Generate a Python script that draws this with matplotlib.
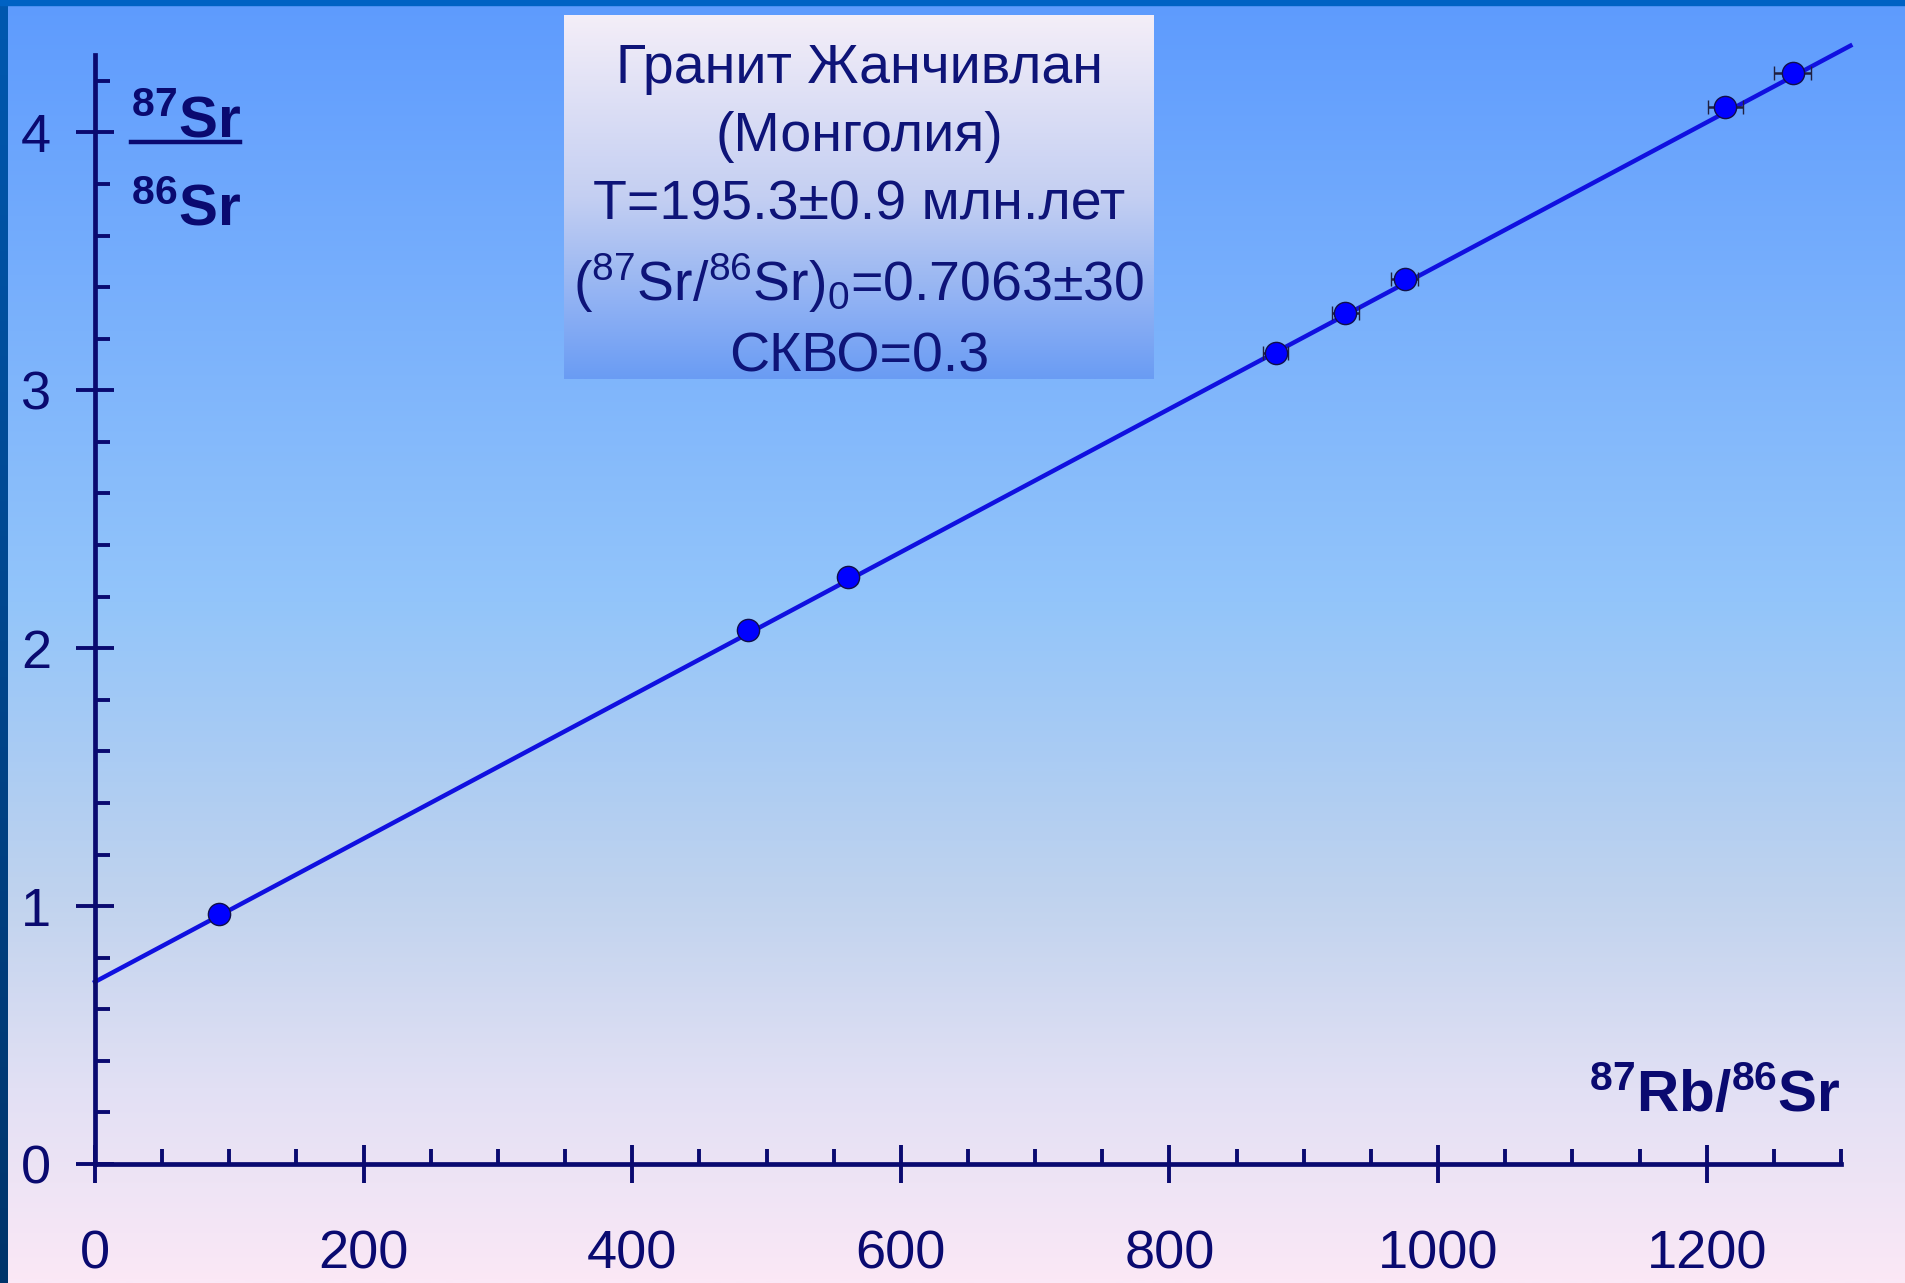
import numpy as np
import matplotlib.pyplot as plt
from matplotlib.colors import LinearSegmentedColormap
from matplotlib.ticker import MultipleLocator, FormatStrFormatter
from matplotlib.lines import Line2D
from matplotlib.patches import Rectangle

# Fonts: Arial-like face, mathtext in the same family for the isotope superscripts
plt.rcParams['font.family'] = ['Liberation Sans', 'DejaVu Sans']
plt.rcParams['mathtext.fontset'] = 'custom'
plt.rcParams['mathtext.rm'] = 'Liberation Sans'
plt.rcParams['mathtext.bf'] = 'Liberation Sans:bold'
plt.rcParams['mathtext.it'] = 'Liberation Sans:italic'

# Isochron data (87Rb/86Sr vs 87Sr/86Sr)
rb_sr = [92, 486, 561, 879, 931, 975, 1214, 1264]
sr_sr = [0.970, 2.072, 2.275, 3.145, 3.300, 3.430, 4.100, 4.230]
rb_err = [1, 5, 6, 9, 10, 10, 13, 14]

# Isochron line end points
line_x = [0, 1307]
line_y = [0.7063, 4.336]

# Text of the info box
box_lines = [
    'Гранит Жанчивлан',
    '(Монголия)',
    'T=195.3±0.9 млн.лет',
    '($^{87}$Sr/$^{86}$Sr)$_0$=0.7063±30',
    'СКВО=0.3',
]

W, H = 1905, 1283
navy = '#0a0a70'
text_col = '#0e1478'

fig = plt.figure(figsize=(W / 100, H / 100), dpi=100)


def px(x, y):
    # pixel position (from top-left) -> figure fraction
    return x / W, 1 - y / H


# Slide background gradient
bg = fig.add_axes([0, 0, 1, 1], zorder=0)
bg_cmap = LinearSegmentedColormap.from_list('bg', [
    (0.0, '#5e9bfe'), (0.47, '#93c5fa'), (0.58, '#a8cbf4'),
    (0.70, '#c0d3ee'), (0.85, '#e2e0f4'), (1.0, '#fbe8f6')])
grad = np.linspace(0, 1, 512).reshape(-1, 1)
bg.imshow(grad, aspect='auto', cmap=bg_cmap, extent=[0, W, H, 0])
border_cmap = LinearSegmentedColormap.from_list('border', ['#0058b0', '#00346a'])
bg.imshow(grad, aspect='auto', cmap=border_cmap, extent=[0, 8, H, 0])
bg.add_patch(Rectangle((0, 0), W, 5, color='#0062c4'))
bg.set_xlim(0, W)
bg.set_ylim(H, 0)
bg.axis('off')

# Main plot
ax = fig.add_axes([95 / W, (H - 1164) / H, 1746 / W, 1109 / H], zorder=1)
ax.patch.set_alpha(0)
ax.set_xlim(0, 1300)
ax.set_ylim(0, 4.3)

for side in ['top', 'right']:
    ax.spines[side].set_visible(False)
for side in ['left', 'bottom']:
    ax.spines[side].set_color(navy)
    ax.spines[side].set_linewidth(3.4)

ax.xaxis.set_major_locator(MultipleLocator(200))
ax.xaxis.set_minor_locator(MultipleLocator(50))
ax.yaxis.set_major_locator(MultipleLocator(1))
ax.yaxis.set_minor_locator(MultipleLocator(0.2))
ax.xaxis.set_major_formatter(FormatStrFormatter('%d'))
ax.yaxis.set_major_formatter(FormatStrFormatter('%d'))

ax.tick_params(which='major', direction='inout', length=27, width=2.8,
               color=navy, labelsize=39, labelcolor=navy)
ax.tick_params(which='minor', direction='in', length=11, width=2.8, color=navy)
ax.tick_params(axis='x', which='major', pad=34)
ax.tick_params(axis='y', which='major', pad=18)

# Isochron line and points with x error bars
ax.plot(line_x, line_y, color='#1010e0', lw=3.2, clip_on=False, zorder=2)
ax.errorbar(rb_sr, sr_sr, xerr=rb_err, fmt='o', ms=16, mfc='#0000ff',
            mec='#10104a', mew=1.0, ecolor='#202040', elinewidth=1.8,
            capsize=5, capthick=1.8, clip_on=False, zorder=3)

# Axis labels
fig.text(*px(1841, 1112), r'$^{\mathbf{87}}$Rb/$^{\mathbf{86}}$Sr', fontsize=42,
         fontweight='bold', color=navy, ha='right', va='baseline')
fig.text(*px(131, 138), r'$^{\mathbf{87}}$Sr', fontsize=42, fontweight='bold',
         color=navy, ha='left', va='baseline')
fig.text(*px(131, 225), r'$^{\mathbf{86}}$Sr', fontsize=42, fontweight='bold',
         color=navy, ha='left', va='baseline')
x0, y0 = px(131, 142)
x1, _ = px(240, 142)
fig.add_artist(Line2D([x0, x1], [y0, y0], color=navy, lw=3.2))

# Info box with vertical gradient
bx0, by0, bx1, by1 = 564, 15, 1154, 379
box = fig.add_axes([bx0 / W, (H - by1) / H, (bx1 - bx0) / W, (by1 - by0) / H], zorder=2)
box_cmap = LinearSegmentedColormap.from_list('box', ['#f4eef8', '#c4cff2', '#6a9cf4'])
box.imshow(grad, aspect='auto', cmap=box_cmap, extent=[0, 1, 1, 0])
box.axis('off')

baselines = [83, 151, 219, 301, 372]
for txt, yb in zip(box_lines, baselines):
    fig.text(*px((bx0 + bx1) / 2, yb), txt, fontsize=40, color=text_col,
             ha='center', va='baseline', zorder=3)

fig.savefig('out.png', dpi=100)
